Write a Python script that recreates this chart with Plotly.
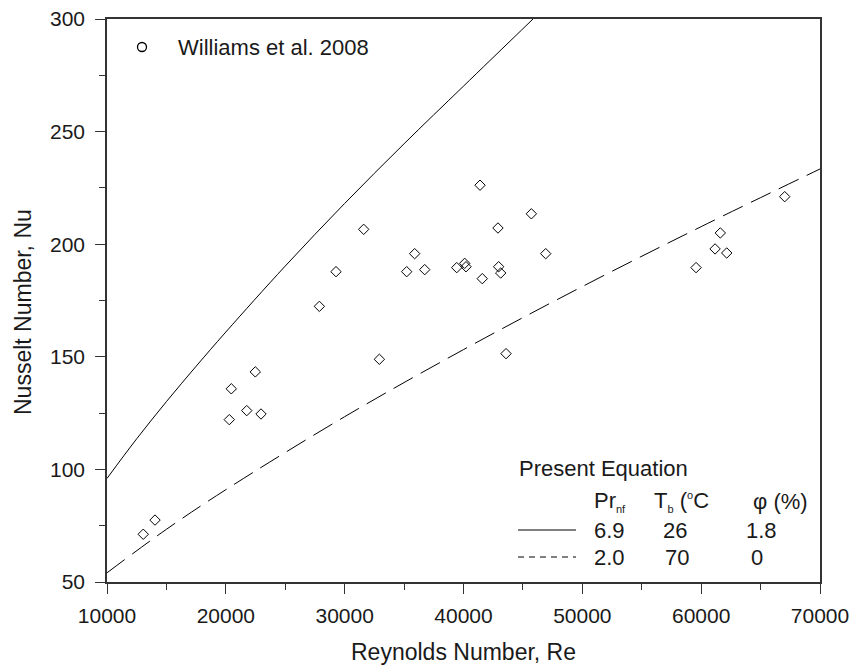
import plotly.graph_objects as go

# Experimental data (Williams et al. 2008)
re_exp = [13050, 14040, 20290, 20460, 21760, 22480, 22960, 27870, 29270, 31600,
          32920, 35220, 35890, 36735, 39430, 40100, 40210, 41390, 41580, 42900,
          42960, 43130, 43580, 45710, 46920, 59570, 61170, 61610, 62150, 67030]
nu_exp = [71.2, 77.5, 122.1, 135.8, 126.1, 143.3, 124.6, 172.4, 187.8, 206.6,
          148.9, 187.8, 195.8, 188.7, 189.6, 191.5, 190.0, 226.2, 184.7, 207.2,
          190.0, 187.2, 151.4, 213.5, 195.8, 189.6, 197.9, 205.0, 196.1, 221.1]

# Present equation curves
re_solid = [10000, 12500, 15000, 17500, 20000, 25000, 30000, 35000, 40000, 45850]
nu_solid = [96.0, 113.6, 130.1, 145.8, 161.0, 190.3, 218.1, 244.6, 270.2, 300.0]
re_dash = [10000, 15000, 20000, 30000, 40000, 50000, 60000, 70000]
nu_dash = [54.1, 73.4, 91.0, 123.4, 153.2, 181.2, 207.8, 233.4]

x_ticks = [10000, 20000, 30000, 40000, 50000, 60000, 70000]
y_ticks = [50, 100, 150, 200, 250, 300]

FONT = "Arial, Liberation Sans, sans-serif"
INK = "#1a1a1a"

fig = go.Figure()
fig.add_trace(go.Scatter(x=re_solid, y=nu_solid, mode="lines", line=dict(color="black", width=1, shape="spline"), showlegend=False))
fig.add_trace(go.Scatter(x=re_dash, y=nu_dash, mode="lines", line=dict(color="black", width=1, dash="22px,9px", shape="spline"), showlegend=False))
fig.add_trace(go.Scatter(x=re_exp, y=nu_exp, mode="markers",
                         marker=dict(symbol="diamond-open", size=8, color="black", line=dict(width=1)),
                         showlegend=False))

axis_common = dict(showgrid=False, zeroline=False, showline=True, linecolor="#333", linewidth=1.5,
                   mirror=True, ticks="outside", ticklen=10, tickwidth=1.2, tickcolor="#333",
                   automargin=False,
                   tickfont=dict(family=FONT, size=21, color=INK))
fig.update_xaxes(range=[10000, 70000], tickvals=x_ticks, ticktext=[str(v) for v in x_ticks],
                 minor=dict(ticks="outside", ticklen=6, dtick=5000, tickcolor="#333", tickwidth=1.2),
                 ticklabelstandoff=4,
                 title=dict(text="Reynolds Number, Re", font=dict(family=FONT, size=23, color=INK), standoff=18),
                 **axis_common)
fig.update_yaxes(range=[50, 300], tickvals=y_ticks, ticktext=[str(v) for v in y_ticks],
                 minor=dict(ticks="outside", ticklen=6, dtick=25, tickcolor="#333", tickwidth=1.2),
                 ticklabelstandoff=6,
                 **axis_common)

def px(x):
    return (x - 107) / 713
def py(y):
    return (582 - y) / 563

ann = []
def txt(x, y, s, size=22, anchor="left"):
    ann.append(dict(x=px(x), y=py(y), xref="paper", yref="paper", text=s, showarrow=False,
                    xanchor=anchor, yanchor="middle", font=dict(family=FONT, size=size, color=INK)))

# y-axis title
ann.append(dict(x=px(23), y=py(312), xref="paper", yref="paper", text="Nusselt Number, Nu",
                showarrow=False, textangle=-90, xanchor="center", yanchor="middle",
                font=dict(family=FONT, size=23, color=INK)))

SMALL = "<span style='font-size:11px'>%s</span>"
txt(176, 47, "Williams et al. 2008")
txt(517, 468, "Present Equation")
txt(592, 501, "Pr<sub>" + SMALL % "nf" + "</sub>")
txt(652, 501, "T<sub>" + SMALL % "b" + "</sub> (<sup>" + SMALL % "o" + "</sup>C")
txt(751, 501, "φ (%)")
txt(592, 530, "6.9")
txt(661, 530, "26")
txt(744, 530, "1.8")
txt(592, 557, "2.0")
txt(663, 557, "70")
txt(749, 557, "0")

shapes = [
    dict(type="circle", xref="paper", yref="paper", x0=px(137.5), x1=px(146.5), y0=py(51.5), y1=py(42.5),
         line=dict(color="black", width=1.3)),
    dict(type="line", xref="paper", yref="paper", x0=px(518), x1=px(576), y0=py(530), y1=py(530),
         line=dict(color="black", width=1)),
    dict(type="line", xref="paper", yref="paper", x0=px(518), x1=px(576), y0=py(557), y1=py(557),
         line=dict(color="black", width=1, dash="6px,5px")),
]

fig.update_layout(width=854, height=668, margin=dict(l=107, r=34, t=19, b=86),
                  plot_bgcolor="white", paper_bgcolor="white", annotations=ann, shapes=shapes,
                  showlegend=False)
fig.write_html("out.html")
